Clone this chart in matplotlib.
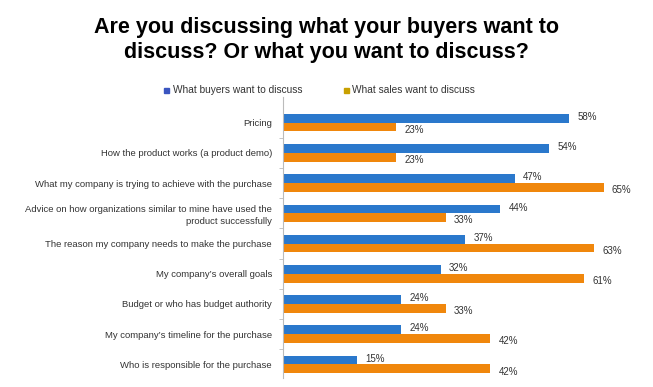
import matplotlib.pyplot as plt
import numpy as np

plt.rcParams['font.family'] = ['Liberation Sans', 'DejaVu Sans']

categories = [
    'Pricing',
    'How the product works (a product demo)',
    'What my company is trying to achieve with the purchase',
    'Advice on how organizations similar to mine have used the\nproduct successfully',
    'The reason my company needs to make the purchase',
    "My company\u2019s overall goals",
    'Budget or who has budget authority',
    "My company\u2019s timeline for the purchase",
    'Who is responsible for the purchase',
]
buyers = [58, 54, 47, 44, 37, 32, 24, 24, 15]
sales = [23, 23, 65, 33, 63, 61, 33, 42, 42]

blue = '#2a78cc'
orange = '#f0870c'

fig = plt.figure(figsize=(6.53, 3.87), dpi=100)
ax = fig.add_axes([283 / 653, 1 - 378 / 387, 0.95 - 283 / 653, (378 - 97) / 387])

y = np.arange(len(categories))
h = 0.29  # bar height
rb = ax.barh(y - h / 2, buyers, h, color=blue)
rs = ax.barh(y + h / 2, sales, h, color=orange)

for rect in rb:
    w = rect.get_width()
    ax.annotate('{}%'.format(w), xy=(w, rect.get_y() + rect.get_height() / 2),
                xytext=(6, 1), textcoords='offset points',
                ha='left', va='center', fontsize=7, color='#333333')
for rect in rs:
    w = rect.get_width()
    ax.annotate('{}%'.format(w), xy=(w, rect.get_y() + rect.get_height() / 2),
                xytext=(6, -2), textcoords='offset points',
                ha='left', va='center', fontsize=7, color='#333333')

ax.set_xlim(0, 68.4)
ax.set_ylim(8.45, -0.85)
ax.set_yticks(y)
ax.set_yticklabels(categories, fontsize=6.8, color='#333333', ha='right',
                   multialignment='right', linespacing=1.45)
ax.tick_params(axis='y', length=0, pad=8)
ax.set_yticks(np.arange(len(categories) - 1) + 0.5, minor=True)
ax.tick_params(axis='y', which='minor', length=3, color='#bbbbbb')
ax.set_xticks([])
for s in ['top', 'right', 'bottom']:
    ax.spines[s].set_visible(False)
ax.spines['left'].set_color('#bbbbbb')

# legend
fig.patches.append(plt.Rectangle((164 / 653, 1 - 93 / 387), 5 / 653, 5 / 387,
                                 color='#3a55c0', transform=fig.transFigure))
fig.text(173 / 653, 1 - 90 / 387, 'What buyers want to discuss', fontsize=7.3,
         va='center', color='#333333')
fig.patches.append(plt.Rectangle((344 / 653, 1 - 93 / 387), 5 / 653, 5 / 387,
                                 color='#c8a000', transform=fig.transFigure))
fig.text(352 / 653, 1 - 90 / 387, 'What sales want to discuss', fontsize=7.3,
         va='center', color='#333333')

fig.text(0.5, 1 - 40 / 387, 'Are you discussing what your buyers want to\ndiscuss? Or what you want to discuss?',
         ha='center', va='center', fontsize=15.5, fontweight='bold',
         linespacing=1.2)

fig.savefig('out.png', dpi=100)
